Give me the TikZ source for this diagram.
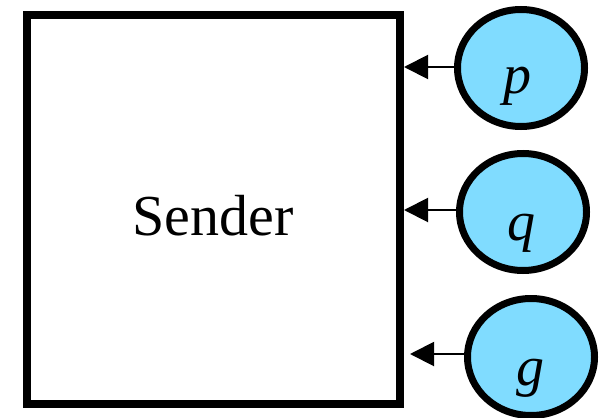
\documentclass[tikz,border=0pt]{standalone}
\usepackage{fontspec}
\setmainfont{Liberation Serif}
\usetikzlibrary{shapes.geometric,arrows.meta}
\definecolor{nodeblue}{RGB}{128,220,255}
\begin{document}
\begin{tikzpicture}[x=1pt,y=-1pt,
  senderbox/.style={draw=black,line width=8pt,minimum width=373pt,minimum height=389pt,inner sep=0pt},
  var/.style={ellipse,draw=black,fill=nodeblue,line width=7pt,minimum width=127pt,minimum height=117pt,inner sep=0pt},
  vartext/.style={anchor=base,font=\fontsize{56}{60}\selectfont\itshape,inner sep=0pt},
  arr/.style={line width=2pt,-{Triangle[length=24pt,width=24pt]}}]
\useasboundingbox (0,0) rectangle (604,417);
\node[senderbox] (box) at (213.5,209.5) {};
\node[anchor=base,font=\fontsize{58}{60}\selectfont,inner sep=0pt] (sendertext) at (213,235) {Sender};
\node[var] (p) at (521,68) {};
\node[var] (q) at (523,212) {};
\node[var] (g) at (531,357) {};
\node[vartext] (pt) at (517,94) {p};
\node[vartext] (qt) at (521,240) {q};
\node[vartext] (gt) at (530,385) {g};
\draw[arr] ([yshift=1pt]p.west) -- ([yshift=1pt]p.west -| box.east);
\draw[arr] ([yshift=2pt]q.west) -- ([yshift=2pt]q.west -| box.east);
\draw[arr] ([yshift=3pt]g.west) -- ([xshift=6pt,yshift=3pt]g.west -| box.east);
\end{tikzpicture}
\end{document}
